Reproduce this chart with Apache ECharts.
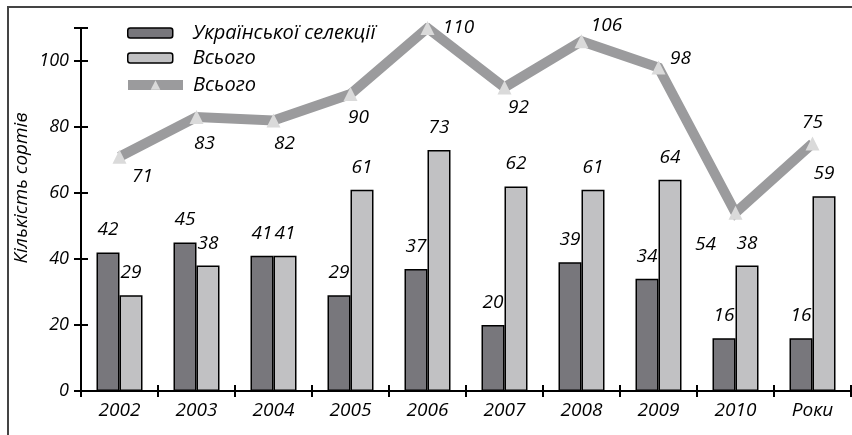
<!DOCTYPE html>
<html>
<head>
<meta charset="utf-8">
<script src="https://cdn.jsdelivr.net/npm/echarts@6/dist/echarts.min.js"></script>
<style>html,body{margin:0;padding:0;background:#fff}#c{width:852px;height:435px}</style>
</head>
<body>
<div id="c"></div>
<script>
const categories = ['2002','2003','2004','2005','2006','2007','2008','2009','2010','Роки'];
const ukrSelection = [42,45,41,29,37,20,39,34,16,16];
const totalBars = [29,38,41,61,73,62,61,64,38,59];
const totalLine = [71,83,82,90,110,92,106,98,54,75];
const yTicks = [0,20,40,60,80,100];

const seriesNames = ['Української селекції','Всього','Всього '];
const lineLabelOffsets = [[23,20],[8,26],[11,23],[8,24],[31,0],[14,20],[25,-16],[22,-9],[-30,32],[0,-21]];

const FONT = 'Open Sans';
const txt = {fontFamily: FONT, fontStyle: 'italic', fontSize: 19, color: '#000'};

const chart = echarts.init(document.getElementById('c'), null, {renderer: 'canvas'});
chart.setOption({
  animation: false,
  backgroundColor: '#fff',
  grid: {left: 81, right: 1, top: 28, bottom: 44, containLabel: false},
  graphic: [
    {type: 'line', shape: {x1: 7, y1: 7, x2: 852, y2: 7}, style: {stroke: '#444', lineWidth: 2}},
    {type: 'line', shape: {x1: 8, y1: 7, x2: 8, y2: 435}, style: {stroke: '#444', lineWidth: 2}},
    {type: 'text', x: 22, y: 188, rotation: Math.PI / 2,
      style: {text: 'Кількість сортів', font: 'italic 19px "' + FONT + '"', fill: '#000', align: 'center', verticalAlign: 'middle'}}
  ],
  legend: [
    {orient: 'vertical', left: 122, top: 18, itemWidth: 45, itemHeight: 10, itemGap: 5,
      textStyle: Object.assign({}, txt, {fontSize: 20, padding: [0, 0, 0, 15]}),
      data: [
        {name: seriesNames[0], itemStyle: {borderColor: '#000', borderWidth: 1.5}},
        {name: seriesNames[1], itemStyle: {borderColor: '#000', borderWidth: 1.5}}
      ]},
    {orient: 'vertical', left: 118, top: 70, itemWidth: 55, itemHeight: 12, itemGap: 4,
      textStyle: Object.assign({}, txt, {fontSize: 20, padding: [0, 0, 0, 5]}),
      data: [
        {name: seriesNames[2], lineStyle: {width: 10, color: '#9b9b9d'}}
      ]}
  ],
  xAxis: [
    {type: 'category', data: categories, boundaryGap: true,
      axisLine: {lineStyle: {color: '#000', width: 2}},
      axisTick: {show: true, length: 6, lineStyle: {color: '#000', width: 2}},
      axisLabel: Object.assign({}, txt, {margin: 10})},
    {type: 'category', data: categories, position: 'bottom', boundaryGap: true,
      axisLine: {show: false},
      axisTick: {show: true, inside: true, length: 6, lineStyle: {color: '#000', width: 2}},
      axisLabel: {show: false}}
  ],
  yAxis: [
    {type: 'value', min: 0, max: 110, interval: 20,
      axisLine: {show: true, lineStyle: {color: '#000', width: 2}},
      axisTick: {show: true, length: 7, lineStyle: {color: '#000', width: 2}},
      splitLine: {show: false},
      axisLabel: Object.assign({}, txt, {fontSize: 18, margin: 12,
        formatter: v => yTicks.includes(v) ? String(v) : ''})},
    {type: 'value', min: 0, max: 110, interval: 20, position: 'left',
      axisLine: {show: false},
      axisTick: {show: true, inside: true, length: 7, lineStyle: {color: '#000', width: 2}},
      splitLine: {show: false}, axisLabel: {show: false}}
  ],
  series: [
    {name: seriesNames[0], type: 'bar', data: ukrSelection, barWidth: 23, barGap: '0%',
      itemStyle: {color: '#78777c', borderColor: '#000', borderWidth: 1.5},
      label: Object.assign({show: true, position: 'top', distance: 13}, txt)},
    {name: seriesNames[1], type: 'bar', data: totalBars, barWidth: 23, barGap: '0%',
      itemStyle: {color: '#c1c1c3', borderColor: '#000', borderWidth: 1.5},
      label: Object.assign({show: true, position: 'top', distance: 13}, txt)},
    {name: seriesNames[2], type: 'line', z: 5,
      data: totalLine.map((v, i) => ({value: v, label: {offset: lineLabelOffsets[i]}})),
      lineStyle: {color: '#9b9b9d', width: 10, join: 'miter'},
      itemStyle: {color: '#dadada'},
      symbol: 'triangle', symbolSize: 14,
      label: Object.assign({show: true, position: 'inside'}, txt)}
  ]
});
</script>
</body>
</html>
